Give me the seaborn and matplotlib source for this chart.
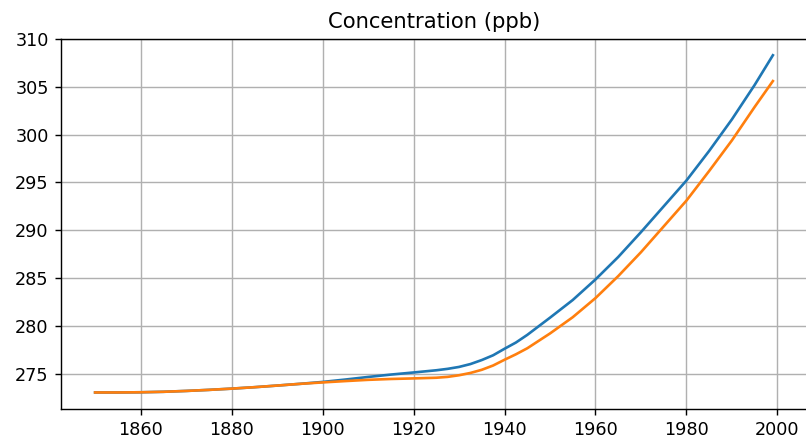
import numpy as np
import pandas as pd
import matplotlib
matplotlib.use("Agg")
import matplotlib.pyplot as plt
import seaborn as sns

years = [1850, 1855, 1860, 1865, 1870, 1875, 1880, 1885, 1890, 1895,
         1900, 1905, 1910, 1915, 1920, 1925, 1927.5, 1930, 1932.5, 1935,
         1937.5, 1940, 1942.5, 1945, 1950, 1955, 1960, 1965, 1970, 1975,
         1980, 1985, 1990, 1995, 1999]

series_a = [273.03, 273.03, 273.05, 273.10, 273.19, 273.30, 273.43, 273.58, 273.75, 273.93,
            274.13, 274.38, 274.65, 274.90, 275.12, 275.35, 275.50, 275.70, 276.00, 276.42,
            276.92, 277.60, 278.25, 279.05, 280.85, 282.70, 284.85, 287.20, 289.80, 292.50,
            295.20, 298.30, 301.60, 305.20, 308.30]

series_b = [273.03, 273.03, 273.05, 273.10, 273.19, 273.30, 273.43, 273.58, 273.75, 273.93,
            274.08, 274.22, 274.35, 274.44, 274.50, 274.57, 274.66, 274.83, 275.07, 275.40,
            275.85, 276.45, 277.02, 277.65, 279.20, 280.90, 282.90, 285.20, 287.70, 290.40,
            293.10, 296.20, 299.40, 302.90, 305.60]

title = "Concentration (ppb)"

df = pd.DataFrame({
    "year": years * 2,
    "value": series_a + series_b,
    "series": ["a"] * len(years) + ["b"] * len(years),
})

DPI = 127
fig = plt.figure(figsize=(806 / DPI, 442 / DPI), dpi=DPI)
ax = fig.add_axes([61 / 806, 33 / 442, 746 / 806, 370 / 442])

sns.lineplot(data=df, x="year", y="value", hue="series",
             palette=["#1f77b4", "#ff7f0e"], linewidth=1.5, ax=ax, legend=False)

ax.set_xlim(1842.5, 2006.5)
ax.set_ylim(271.3, 310.0)
ax.set_xticks([1860, 1880, 1900, 1920, 1940, 1960, 1980, 2000])
ax.set_yticks([275, 280, 285, 290, 295, 300, 305, 310])
ax.grid(True, color="#b0b0b0", linewidth=0.8)
ax.set_axisbelow(True)
ax.set_xlabel("")
ax.set_ylabel("")
ax.set_title(title)

fig.savefig("out.png", dpi=DPI)
